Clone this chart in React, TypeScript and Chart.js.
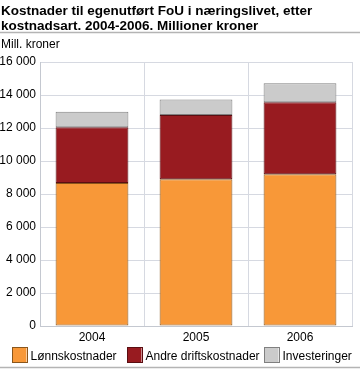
import React, { useEffect, useRef } from "react";
import { Chart, registerables } from "chart.js";

Chart.register(...registerables);

const categories = ["2004", "2005", "2006"];
const lonnskostnader = [8660, 8890, 9190];
const andreDriftskostnader = [3390, 3900, 4370];
const investeringer = [940, 930, 1150];
const seriesNames = ["Lønnskostnader", "Andre driftskostnader", "Investeringer"];
const titleLines = [
  "Kostnader til egenutført FoU i næringslivet, etter",
  "kostnadsart. 2004-2006. Millioner kroner",
];
const yUnit = "Mill. kroner";

const FONT = "'Liberation Sans', Arial, Helvetica, sans-serif";
const legendBoxX = [12, 127, 264];

const decorPlugin = {
  id: "decor",
  afterDraw(chart: any) {
    const ctx = chart.ctx;
    ctx.save();
    ctx.fillStyle = "#000";
    ctx.textAlign = "left";
    ctx.textBaseline = "alphabetic";
    ctx.font = `bold 13.5px ${FONT}`;
    ctx.fillText(titleLines[0], 1, 15);
    ctx.fillText(titleLines[1], 1, 29.5);
    ctx.font = `12px ${FONT}`;
    ctx.fillText(yUnit, 1, 48);
    ctx.strokeStyle = "#b4b4b4";
    ctx.lineWidth = 1.5;
    ctx.beginPath();
    ctx.moveTo(0, 32.5);
    ctx.lineTo(360, 32.5);
    ctx.moveTo(0, 367.5);
    ctx.lineTo(360, 367.5);
    ctx.stroke();
    // legend
    chart.data.datasets.forEach((ds: any, i: number) => {
      const x = legendBoxX[i];
      ctx.fillStyle = ds.backgroundColor;
      ctx.fillRect(x + 0.5, 348, 14, 14);
      ctx.strokeStyle = ds.borderColor;
      ctx.lineWidth = 1;
      ctx.strokeRect(x + 0.5, 347.5, 15, 15);
      ctx.fillStyle = "#000";
      ctx.font = `12px ${FONT}`;
      ctx.fillText(ds.label, x + 18.5, 359.5);
    });
    ctx.restore();
  },
};

export default function App() {
  const ref = useRef<HTMLCanvasElement>(null);
  useEffect(() => {
    const canvas = ref.current!;
    const chart = new Chart(canvas, {
      type: "bar",
      data: {
        labels: categories,
        datasets: [
          {
            label: seriesNames[0],
            data: lonnskostnader,
            backgroundColor: "#f89838",
            borderColor: "#8a561c",
            borderWidth: 1,
            borderSkipped: false,
          },
          {
            label: seriesNames[1],
            data: andreDriftskostnader,
            backgroundColor: "#981b20",
            borderColor: "#5a0e12",
            borderWidth: 1,
            borderSkipped: false,
          },
          {
            label: seriesNames[2],
            data: investeringer,
            backgroundColor: "#cbcbcb",
            borderColor: "#808080",
            borderWidth: 1,
            borderSkipped: false,
          },
        ],
      },
      options: {
        responsive: false,
        animation: false,
        layout: { padding: { top: 62, left: 0, right: 12, bottom: 31 } },
        datasets: { bar: { categoryPercentage: 0.7, barPercentage: 1 } },
        scales: {
          x: {
            stacked: true,
            grid: { color: "#d6d9e1", drawTicks: false, offset: true },
            border: { color: "#c4c8d0" },
            ticks: { color: "#000", font: { family: FONT, size: 12 }, padding: 4 },
            afterFit(scale: any) {
              scale.height = 16;
            },
          },
          y: {
            stacked: true,
            min: 0,
            max: 16000,
            grid: { color: "#d6d9e1", drawTicks: false },
            border: { color: "#c4c8d0" },
            ticks: {
              stepSize: 2000,
              color: "#000",
              font: { family: FONT, size: 12 },
              padding: 4,
              callback: (v: any) => {
                const n = Number(v);
                return n >= 1000
                  ? `${Math.floor(n / 1000)} ${String(n % 1000).padStart(3, "0")}`
                  : String(n);
              },
            },
            afterFit(scale: any) {
              scale.width = 40;
            },
          },
        },
        plugins: {
          legend: { display: false },
          title: { display: false },
          tooltip: { enabled: false },
        },
      },
      plugins: [decorPlugin],
    });
    return () => chart.destroy();
  }, []);
  return (
    <div style={{ position: "absolute", left: 0, top: 0, width: 364, height: 373, background: "#fff" }}>
      <canvas ref={ref} width={364} height={373} style={{ display: "block" }} />
    </div>
  );
}
